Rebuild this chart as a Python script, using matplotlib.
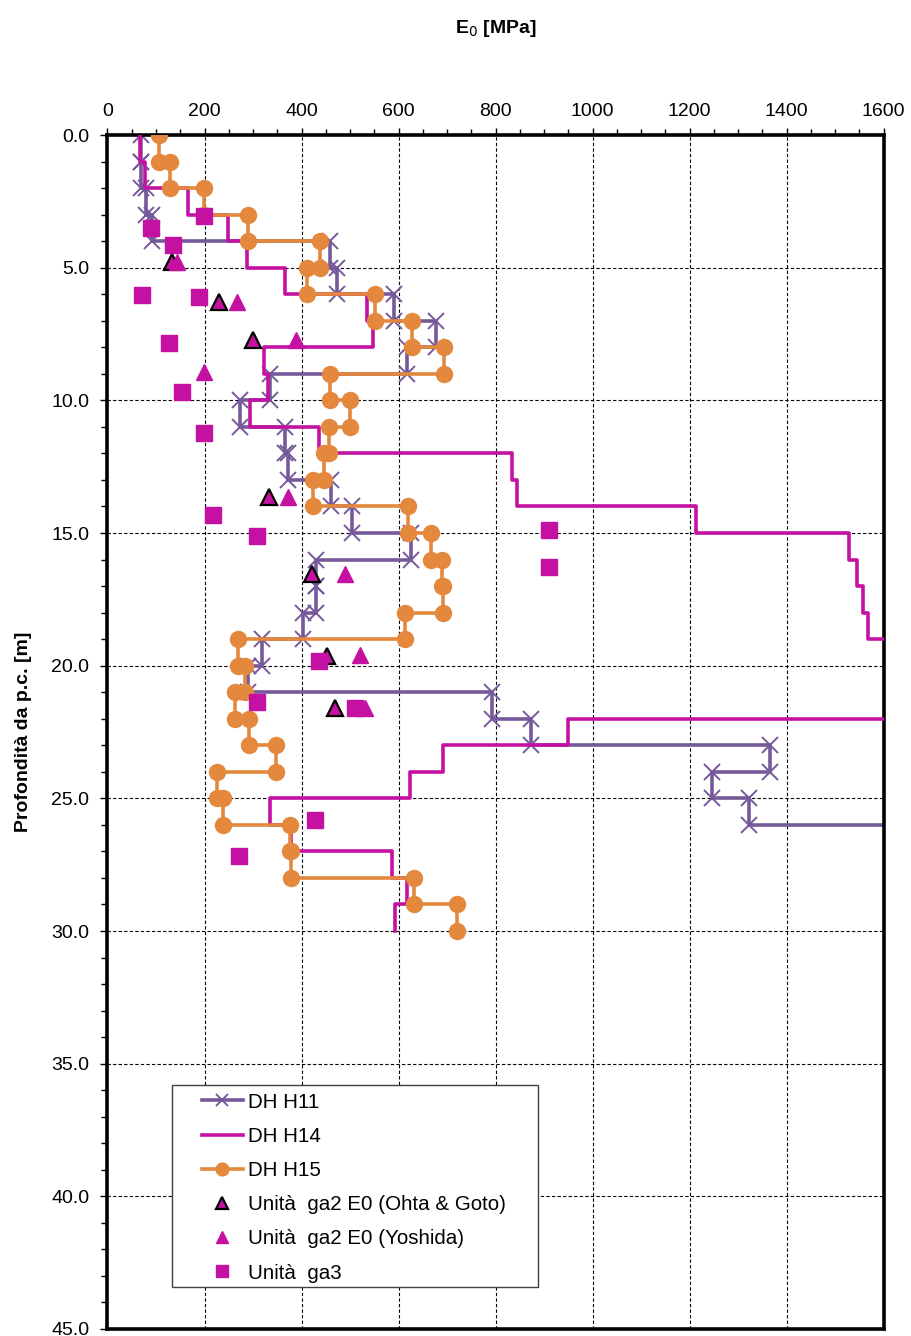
import numpy as np
import matplotlib
matplotlib.use("Agg")
import matplotlib.pyplot as plt
from matplotlib.ticker import MultipleLocator
from matplotlib.patches import Rectangle

plt.rcParams['font.family'] = ['Liberation Sans', 'DejaVu Sans']

# E0 [MPa] per 1 m layer, starting at depth 0
h11_E = [70, 70, 80, 91, 458, 474, 590, 677, 617, 334, 273, 366, 372, 460, 504,
         626, 430, 430, 402, 318, 290, 793, 874, 1366, 1246, 1323, 1750]
h14_E = [68, 77, 165, 248, 287, 366, 534, 548, 323, 331, 294, 435, 833, 845, 1213,
         1529, 1545, 1558, 1568, 1700, 1700, 1700, 950, 692, 624, 335, 378, 586, 617, 593]
h15_E = [107, 129, 199, 290, 438, 412, 552, 627, 694, 459, 499, 457, 446, 424, 620,
         666, 690, 691, 613, 268, 283, 263, 292, 347, 225, 238, 376, 378, 631, 720]

ohta_E = [133, 229, 299, 332, 422, 453, 469]
ohta_d = [4.77, 6.3, 7.73, 13.63, 16.55, 19.65, 21.6]
yosh_E = [143, 266, 389, 199, 373, 490, 521, 531]
yosh_d = [4.77, 6.3, 7.73, 8.95, 13.63, 16.55, 19.6, 21.6]
ga3_E = [198, 90, 134, 72, 189, 127, 153, 199, 217, 309, 910, 910, 437, 309, 510, 428, 272]
ga3_d = [3.04, 3.52, 4.15, 6.03, 6.09, 7.83, 9.7, 11.22, 14.32, 15.11, 14.89, 16.27,
         19.81, 21.36, 21.61, 25.82, 27.17]

purple = '#76599A'
magenta = '#C411A2'
orange = '#E3883D'


def steps(vals):
    top = np.arange(len(vals))
    x = np.repeat(vals, 2)
    y = np.column_stack([top, top + 1]).ravel()
    return x, y


fig = plt.figure(figsize=(9.11, 13.36), dpi=100)
ax = fig.add_axes([0.118, 0.00524, 0.852, 0.8937])

x, y = steps(h11_E)
ax.plot(x, y, color=purple, lw=2.6, marker='x', ms=11, mew=1.4, label='DH H11', zorder=2)
x, y = steps(h14_E)
ax.plot(x, y, color=magenta, lw=2.6, label='DH H14', zorder=3)
x, y = steps(h15_E)
ax.plot(x, y, color=orange, lw=2.6, marker='o', ms=11.5, label='DH H15', zorder=4)

ax.plot(ohta_E, ohta_d, ls='none', marker='^', ms=11, mfc=magenta, mec='black', mew=1.6,
        label='Unità  ga2 E0 (Ohta & Goto)', zorder=5)
ax.plot(yosh_E, yosh_d, ls='none', marker='^', ms=11, mfc=magenta, mec=magenta,
        label='Unità  ga2 E0 (Yoshida)', zorder=6)
ax.plot(ga3_E, ga3_d, ls='none', marker='s', ms=11, mfc=magenta, mec=magenta,
        label='Unità  ga3', zorder=7)

ax.set_xlim(0, 1600)
ax.set_ylim(45, 0)
ax.xaxis.set_major_locator(MultipleLocator(200))
ax.xaxis.set_minor_locator(MultipleLocator(50))
ax.yaxis.set_major_locator(MultipleLocator(5))
ax.yaxis.set_minor_locator(MultipleLocator(1))
ax.yaxis.set_major_formatter(matplotlib.ticker.FormatStrFormatter('%.1f'))
ax.xaxis.tick_top()
ax.tick_params(axis='both', which='major', labelsize=14, length=5, width=1, direction='out')
ax.tick_params(axis='both', which='minor', length=4, width=1, direction='out')
ax.tick_params(axis='x', which='major', pad=6)
ax.tick_params(axis='y', which='major', pad=8)
ax.tick_params(axis='x', which='both', bottom=False, top=True)
ax.tick_params(axis='y', which='both', right=False, left=True)

ax.grid(True, which='major', color='black', lw=0.8, ls=(0, (3, 2)))
for s in ax.spines.values():
    s.set_linewidth(2.6)
    s.set_color('black')

ax.xaxis.set_label_position('top')
ax.set_xlabel('E$_0$ [MPa]', fontsize=14, fontweight='bold', labelpad=50)
ax.set_ylabel('Profondità da p.c. [m]', fontsize=14, fontweight='bold', labelpad=14)

# legend frame drawn separately
ax.add_patch(Rectangle((0.0827, 0.0352), 0.4725, 0.1692, transform=ax.transAxes,
                       facecolor='white', edgecolor='#404040', lw=1.0, zorder=9))
leg = ax.legend(loc='upper left', bbox_to_anchor=(0.1214, 0.1980), borderaxespad=0,
                fontsize=14.8, frameon=False, handlelength=2.0, handletextpad=0.25,
                labelspacing=0.74, borderpad=0, markerscale=0.8)
leg.set_zorder(10)

fig.savefig('out.png', dpi=100)
